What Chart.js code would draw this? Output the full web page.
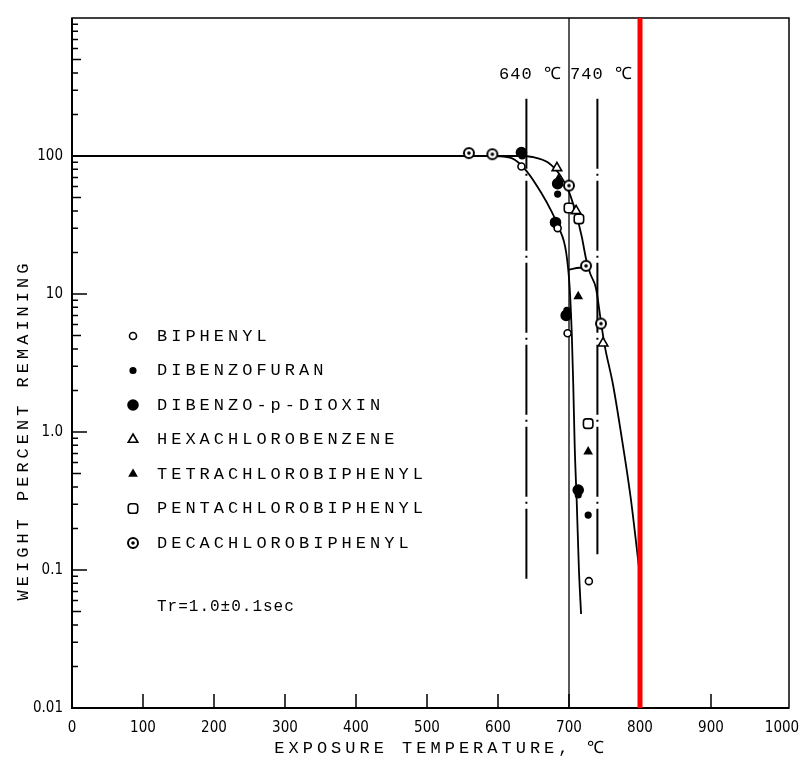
<!DOCTYPE html>
<html>
<head>
<meta charset="utf-8">
<script src="https://cdn.jsdelivr.net/npm/chart.js@4.4.1/dist/chart.umd.min.js"></script>
<style>
  html, body { margin: 0; padding: 0; background: #fff; }
  #canvas { display: block; }
</style>
</head>
<body>
<canvas id="canvas" width="804" height="759"></canvas>
<script>
// axis ticks
var xTickValues = [0, 100, 200, 300, 400, 500, 600, 700, 800, 900, 1000];
var yTickValues = [0.01, 0.1, 1, 10, 100];
var yTickLabels = ['0.01', '0.1', '1.0', '10', '100'];

// measured points: exposure temperature (C) / weight percent remaining
var biphenylT = [633, 684, 698, 728];
var biphenylW = [84, 30, 5.2, 0.083];
var dibenzofuranT = [634, 684, 697, 713, 727];
var dibenzofuranW = [100, 53, 7.6, 0.35, 0.25];
var dioxinT = [633, 684, 681, 696, 713];
var dioxinW = [106, 63, 33, 7.0, 0.38];
var hexaT = [683, 710, 748];
var hexaW = [82, 40, 4.4];
var tetraT = [685, 713, 727];
var tetraW = [68, 9.6, 0.72];
var pentaT = [700, 714, 727];
var pentaW = [42, 35, 1.15];
var decaT = [559, 592, 700, 724, 745];
var decaW = [105, 103, 61, 16, 6.1];

// hand-drawn decay curves
var upperCurveT = [0, 630, 650, 670, 688, 700, 710, 718, 724, 730, 738, 745, 750, 762, 773, 787, 800];
var upperCurveW = [100, 100, 98, 90, 72, 55, 38, 26, 18, 14, 11, 6.3, 4.3, 2.2, 1.0, 0.33, 0.09];
var lowerCurveT = [595, 620, 640, 660, 675, 686, 696, 701, 704, 706, 708, 711, 714, 717];
var lowerCurveW = [100, 96, 78, 55, 40, 30, 20, 11, 5, 2.2, 0.8, 0.3, 0.1, 0.048];
var shoulderT = [700, 715, 728];
var shoulderW = [15, 15.5, 15];

// residence-time limits
var limitTemps = [640, 740];
var limitLabels = ['640 \u2103', '740 \u2103'];
var limitTop = [260, 260];
var limitBottom = [0.08, 0.13];
var gridTemp = 700;
var cutoffTemp = 800;

var compounds = ['BIPHENYL', 'DIBENZOFURAN', 'DIBENZO-p-DIOXIN', 'HEXACHLOROBENZENE',
                 'TETRACHLOROBIPHENYL', 'PENTACHLOROBIPHENYL', 'DECACHLOROBIPHENYL'];

var monoFont = "'Liberation Mono', 'DejaVu Sans Mono', monospace";

function pts(t, w) {
    return t.map(function (v, i) { return { x: v, y: w[i] }; });
}

// circle with a centre dot
function ringDot(r) {
    var c = document.createElement('canvas');
    c.width = c.height = 2 * r + 4;
    var g = c.getContext('2d');
    g.fillStyle = '#fff';
    g.strokeStyle = '#000';
    g.lineWidth = 2;
    g.beginPath();
    g.arc(r + 2, r + 2, r, 0, 2 * Math.PI);
    g.fill();
    g.stroke();
    g.fillStyle = '#000';
    g.beginPath();
    g.arc(r + 2, r + 2, 1.8, 0, 2 * Math.PI);
    g.fill();
    return c;
}

var markerStyles = [
    { pointStyle: 'circle', radius: 3.5, fill: '#fff' },
    { pointStyle: 'circle', radius: 2.8, fill: '#000' },
    { pointStyle: 'circle', radius: 5, fill: '#000' },
    { pointStyle: 'triangle', radius: 5.5, fill: '#fff' },
    { pointStyle: 'triangle', radius: 4, fill: '#000' },
    { pointStyle: 'rectRounded', radius: 5.5, fill: '#fff' },
    { pointStyle: ringDot(5), radius: 5, fill: '#fff' }
];

var seriesPoints = [
    pts(biphenylT, biphenylW),
    pts(dibenzofuranT, dibenzofuranW),
    pts(dioxinT, dioxinW),
    pts(hexaT, hexaW),
    pts(tetraT, tetraW),
    pts(pentaT, pentaW),
    pts(decaT, decaW)
];

var datasets = [];

function curve(data, extra) {
    var ds = {
        data: data,
        showLine: true,
        borderColor: '#000',
        borderWidth: 1.8,
        pointRadius: 0,
        cubicInterpolationMode: 'monotone',
        order: 2
    };
    for (var k in extra) ds[k] = extra[k];
    return ds;
}

datasets.push(curve(pts(upperCurveT, upperCurveW)));
datasets.push(curve(pts(lowerCurveT, lowerCurveW)));
datasets.push(curve(pts(shoulderT, shoulderW)));

// straight verticals
datasets.push(curve([{ x: gridTemp, y: 1000 }, { x: gridTemp, y: 0.01 }], { cubicInterpolationMode: 'default', borderWidth: 1.3 }));
limitTemps.forEach(function (t, i) {
    datasets.push(curve([{ x: t, y: limitTop[i] }, { x: t, y: limitBottom[i] }],
        { cubicInterpolationMode: 'default', borderWidth: 2, borderDash: [70, 5, 2, 5] }));
});

seriesPoints.forEach(function (data, i) {
    var s = markerStyles[i];
    datasets.push({
        label: compounds[i],
        data: data,
        showLine: false,
        pointStyle: s.pointStyle,
        pointRadius: s.radius,
        pointBackgroundColor: s.fill,
        pointBorderColor: '#000',
        pointBorderWidth: 1.6,
        order: 1
    });
});

datasets.push(curve([{ x: cutoffTemp, y: 1000 }, { x: cutoffTemp, y: 0.01 }],
    { cubicInterpolationMode: 'default', borderColor: '#ff0000', borderWidth: 5, order: 0 }));

// frame, inward ticks, legend and notes
var decorations = {
    id: 'decorations',
    beforeDatasetsDraw: function (chart) {
        var ctx = chart.ctx, a = chart.chartArea;
        var xs = chart.scales.x, ys = chart.scales.y;
        var frameRight = a.right + 7;
        ctx.save();
        ctx.strokeStyle = '#000';
        ctx.lineWidth = 1.5;
        ctx.strokeRect(a.left, a.top, frameRight - a.left, a.bottom - a.top);
        ctx.lineWidth = 2;
        ctx.beginPath();
        ctx.moveTo(a.left, a.top);
        ctx.lineTo(a.left, a.bottom);
        ctx.lineTo(frameRight, a.bottom);
        ctx.stroke();

        ctx.lineWidth = 1.5;
        ctx.beginPath();
        xTickValues.slice(1, -1).forEach(function (v) {
            var px = xs.getPixelForValue(v);
            ctx.moveTo(px, a.bottom);
            ctx.lineTo(px, a.bottom - 14);
        });
        for (var d = 0.01; d < 1000; d *= 10) {
            for (var m = 1; m < 10; m++) {
                if (m === 1 && d === 0.01) continue;
                var py = ys.getPixelForValue(d * m);
                var len = m === 1 ? 15 : (m === 5 ? 9 : 6);
                ctx.moveTo(a.left, py);
                ctx.lineTo(a.left + len, py);
            }
        }
        ctx.stroke();
        ctx.restore();
    },
    afterDraw: function (chart) {
        var ctx = chart.ctx, a = chart.chartArea;
        var xs = chart.scales.x;
        ctx.save();
        ctx.fillStyle = '#000';
        ctx.strokeStyle = '#000';
        ctx.textBaseline = 'middle';
        ctx.font = '17px ' + monoFont;
        ctx.letterSpacing = '4px';

        compounds.forEach(function (name, i) {
            var y = a.top + 318 + i * 34.5;
            var s = markerStyles[i];
            ctx.fillStyle = s.fill;
            ctx.lineWidth = 1.6;
            Chart.helpers.drawPoint(ctx, { pointStyle: s.pointStyle, radius: s.radius, rotation: 0, borderWidth: 1.6 }, 133, y);
            ctx.fillStyle = '#000';
            ctx.textAlign = 'left';
            ctx.fillText(name, 157, y);
        });

        ctx.letterSpacing = '1px';
        ctx.font = '16px ' + monoFont;
        ctx.fillText('Tr=1.0\u00b10.1sec', 157, 607);

        ctx.textAlign = 'center';
        ctx.font = '17px ' + monoFont;
        limitTemps.forEach(function (t, i) {
            ctx.fillText(limitLabels[i], xs.getPixelForValue(t) + 4, a.top + 56);
        });

        ctx.letterSpacing = '4px';
        ctx.fillText('EXPOSURE TEMPERATURE, \u2103', 441, 748);

        ctx.translate(23, 430);
        ctx.rotate(-Math.PI / 2);
        ctx.fillText('WEIGHT PERCENT REMAINING', 0, 0);
        ctx.restore();
    }
};

var tickFont = { family: "'DejaVu Sans Condensed', 'DejaVu Sans', sans-serif", size: 15 };

var config = {
    type: 'scatter',
    data: { datasets: datasets },
    options: {
        responsive: false,
        animation: false,
        layout: { padding: { top: 17, right: 22, left: 0, bottom: 0 } },
        plugins: {
            legend: { display: false },
            tooltip: { enabled: false }
        },
        scales: {
            x: {
                type: 'linear',
                min: 0,
                max: 1000,
                afterBuildTicks: function (s) { s.ticks = xTickValues.map(function (v) { return { value: v }; }); },
                afterFit: function (s) { s.height = 51; s.paddingLeft = 0; s.paddingRight = 0; },
                grid: { display: false, drawTicks: false },
                border: { display: false },
                ticks: {
                    padding: 11,
                    color: '#000',
                    font: tickFont,
                    maxRotation: 0,
                    autoSkip: false,
                    callback: function (v) { return String(v); }
                }
            },
            y: {
                type: 'logarithmic',
                min: 0.01,
                max: 1000,
                afterBuildTicks: function (s) { s.ticks = yTickValues.map(function (v) { return { value: v }; }); },
                afterFit: function (s) { s.width = 72; },
                grid: { display: false, drawTicks: false },
                border: { display: false },
                ticks: {
                    padding: 9,
                    color: '#000',
                    font: tickFont,
                    autoSkip: false,
                    callback: function (v, i) { return yTickLabels[i]; }
                }
            }
        }
    },
    plugins: [decorations]
};

window.chart = new Chart(document.getElementById('canvas'), config);
</script>
</body>
</html>
